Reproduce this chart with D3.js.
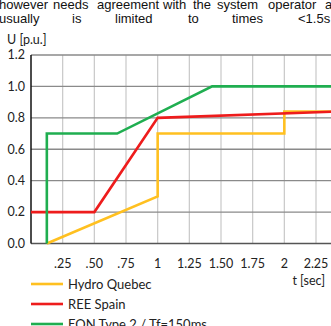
<!DOCTYPE html>
<html>
<head>
<meta charset="utf-8">
<script src="https://cdn.jsdelivr.net/npm/d3@7/dist/d3.min.js"></script>
<style>
  body { margin: 0; background: #fff; }
  svg { display: block; }
  .para { font-family: "Liberation Sans", Arial, sans-serif; font-size: 13px; fill: #111; }
  .lbl { font-family: Lato, "Open Sans", sans-serif; font-size: 12.5px; fill: #222; }
</style>
</head>
<body>
<script>
// series (time in s, voltage in p.u.)
const hydroQuebec = [[0.125, 0], [1.0, 0.3], [1.0, 0.7], [2.0, 0.7], [2.0, 0.84], [2.4, 0.84]];
const reeSpain = [[0, 0.2], [0.5, 0.2], [1.0, 0.8], [2.4, 0.84]];
const eonType2 = [[0.125, 0], [0.125, 0.7], [0.68, 0.7], [1.43, 1.0], [2.4, 1.0]];

const seriesNames = ["Hydro Quebec", "REE Spain", "EON Type 2 / Tf=150ms"];
const seriesColors = ["#ffc020", "#ee1c1c", "#1fae50"];

const xTicks = [0.25, 0.5, 0.75, 1, 1.25, 1.5, 1.75, 2, 2.25];
const xTickLabels = [".25", ".50", ".75", "1", "1.25", "1.50", "1.75", "2", "2.25"];
const yTicks = [0, 0.2, 0.4, 0.6, 0.8, 1.0, 1.2];

// paragraph text above the figure, word by word
const line1 = [["however", -1], ["needs", 53], ["agreement", 97], ["with", 163], ["the", 193], ["system", 217], ["operator", 268], ["and", 325]];
const line2 = [["usually", -1], ["is", 72], ["limited", 115], ["to", 188], ["times", 232], ["<1.5s", 298]];

const W = 331, H = 326;
const svg = d3.select("body").append("svg").attr("width", W).attr("height", H);

svg.append("g").selectAll("text").data(line1).join("text")
  .attr("class", "para").attr("x", d => d[1]).attr("y", 9).text(d => d[0]);
svg.append("g").selectAll("text").data(line2).join("text")
  .attr("class", "para").attr("x", d => d[1]).attr("y", 23).text(d => d[0]);

const x = d3.scaleLinear().domain([0, 2.4]).range([31, 335]);
const y = d3.scaleLinear().domain([0, 1.2]).range([243.5, 55]);

// vertical grid
svg.append("g").selectAll("line").data(xTicks).join("line")
  .attr("x1", d => x(d)).attr("x2", d => x(d))
  .attr("y1", y(1.2)).attr("y2", y(0))
  .attr("stroke", "#c8c8c8").attr("stroke-width", 1.2);

// horizontal grid
svg.append("g").selectAll("line").data(yTicks).join("line")
  .attr("x1", x(0)).attr("x2", W)
  .attr("y1", d => y(d)).attr("y2", d => y(d))
  .attr("stroke", d => d === 0 ? "#555" : "#8a8a8a").attr("stroke-width", 1.3);

// left axis line
svg.append("line").attr("x1", x(0)).attr("x2", x(0))
  .attr("y1", y(1.2)).attr("y2", y(0)).attr("stroke", "#111").attr("stroke-width", 1.5);

// y tick labels
svg.append("g").selectAll("text").data(yTicks).join("text")
  .attr("class", "lbl").attr("x", 25).attr("y", d => y(d)).attr("dy", "0.35em")
  .attr("text-anchor", "end").text(d => d.toFixed(1));

// x tick labels
svg.append("g").selectAll("text").data(xTicks).join("text")
  .attr("class", "lbl").attr("x", d => x(d)).attr("y", 264).attr("dy", "0.35em")
  .attr("text-anchor", "middle").text((d, i) => xTickLabels[i]);

svg.append("text").attr("class", "lbl").attr("x", 7).attr("y", 44).text("U [p.u.]");
svg.append("text").attr("class", "lbl").attr("x", 325).attr("y", 281).attr("dy", "0.35em")
  .attr("text-anchor", "end").text("t [sec]");

// lines
const line = d3.line().x(d => x(d[0])).y(d => y(d[1]));
const allSeries = [hydroQuebec, reeSpain, eonType2];
svg.append("g").selectAll("path").data(allSeries).join("path")
  .attr("d", line).attr("fill", "none")
  .attr("stroke", (d, i) => seriesColors[i]).attr("stroke-width", 2.6)
  .attr("stroke-linejoin", "miter");

// legend
const leg = svg.append("g").selectAll("g").data(seriesNames).join("g")
  .attr("transform", (d, i) => `translate(0, ${284 + i * 20})`);
leg.append("line").attr("x1", 31).attr("x2", 63)
  .attr("stroke", (d, i) => seriesColors[i]).attr("stroke-width", 2.6);
leg.append("text").attr("class", "lbl").attr("x", 68).attr("dy", "0.35em")
  .style("font-size", "13px").text(d => d);
</script>
</body>
</html>
